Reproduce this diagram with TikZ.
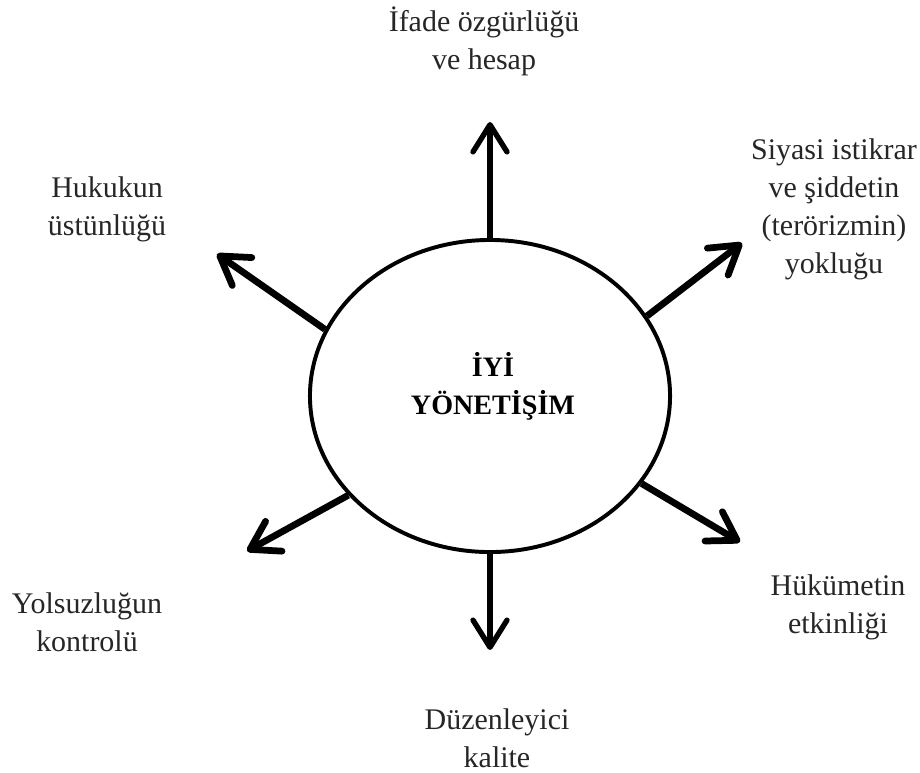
\documentclass[tikz,border=0pt]{standalone}
\usepackage{fontspec}
\setmainfont{Liberation Serif}
\usetikzlibrary{arrows.meta,shapes.geometric}

\tikzset{
  lbl/.style={align=center, text=black!85, inner sep=0pt,
    font=\fontsize{21.3}{27}\selectfont},
  arr/.style={-{Straight Barb[length=0.68cm, width=0.85cm, round]}, line width=3.8pt},
  fatarr/.style={arr, line width=4.8pt}
}

\begin{document}
\begin{tikzpicture}[x=0.025cm, y=-0.025cm]
  \useasboundingbox (0,0) rectangle (920,772);
	\node (core) [ellipse, draw, line width=2.8pt, minimum width=9cm, minimum height=7.8cm, inner sep=0pt] at (490,396) {};
	\node (iyi) [lbl, text=black, font=\bfseries\fontsize{20}{27}\selectfont] at (493,386) {İYİ\\YÖNETİŞİM};

    \node (ifade) [lbl] at (484,41) {İfade özgürlüğü\\ve hesap};
    \node (siyasi) [lbl] at (834,209) {Siyasi istikrar\\ve şiddetin\\(terörizmin)\\yokluğu};
    \node (hukuk) [lbl] at (107,209) {Hukukun\\üstünlüğü};
  	\node (yolsuz) [lbl] at (87,622) {Yolsuzluğun\\kontrolü};
  	\node (hukumet) [lbl] at (838,607) {Hükümetin\\etkinliği};
	\node (duzen) [lbl] at (497,738) {Düzenleyici\\kalite};

    \coordinate (tu) at (490,122);
    \coordinate (tur) at (742,243);
    \coordinate (tul) at (217,254);
    \coordinate (tll) at (247,551);
    \coordinate (tlr) at (740,542);
    \coordinate (td) at (490,650);

    \draw [arr] (core.north) -- (tu);
    \draw [fatarr] (core.27) -- (tur);
    \draw [fatarr] (core.158) -- (tul);
	\draw [fatarr] (core.215) -- (tll);
	\draw [fatarr] (core.-30) -- (tlr);
	\draw [arr] (core.south) -- (td);
\end{tikzpicture}
\end{document}
